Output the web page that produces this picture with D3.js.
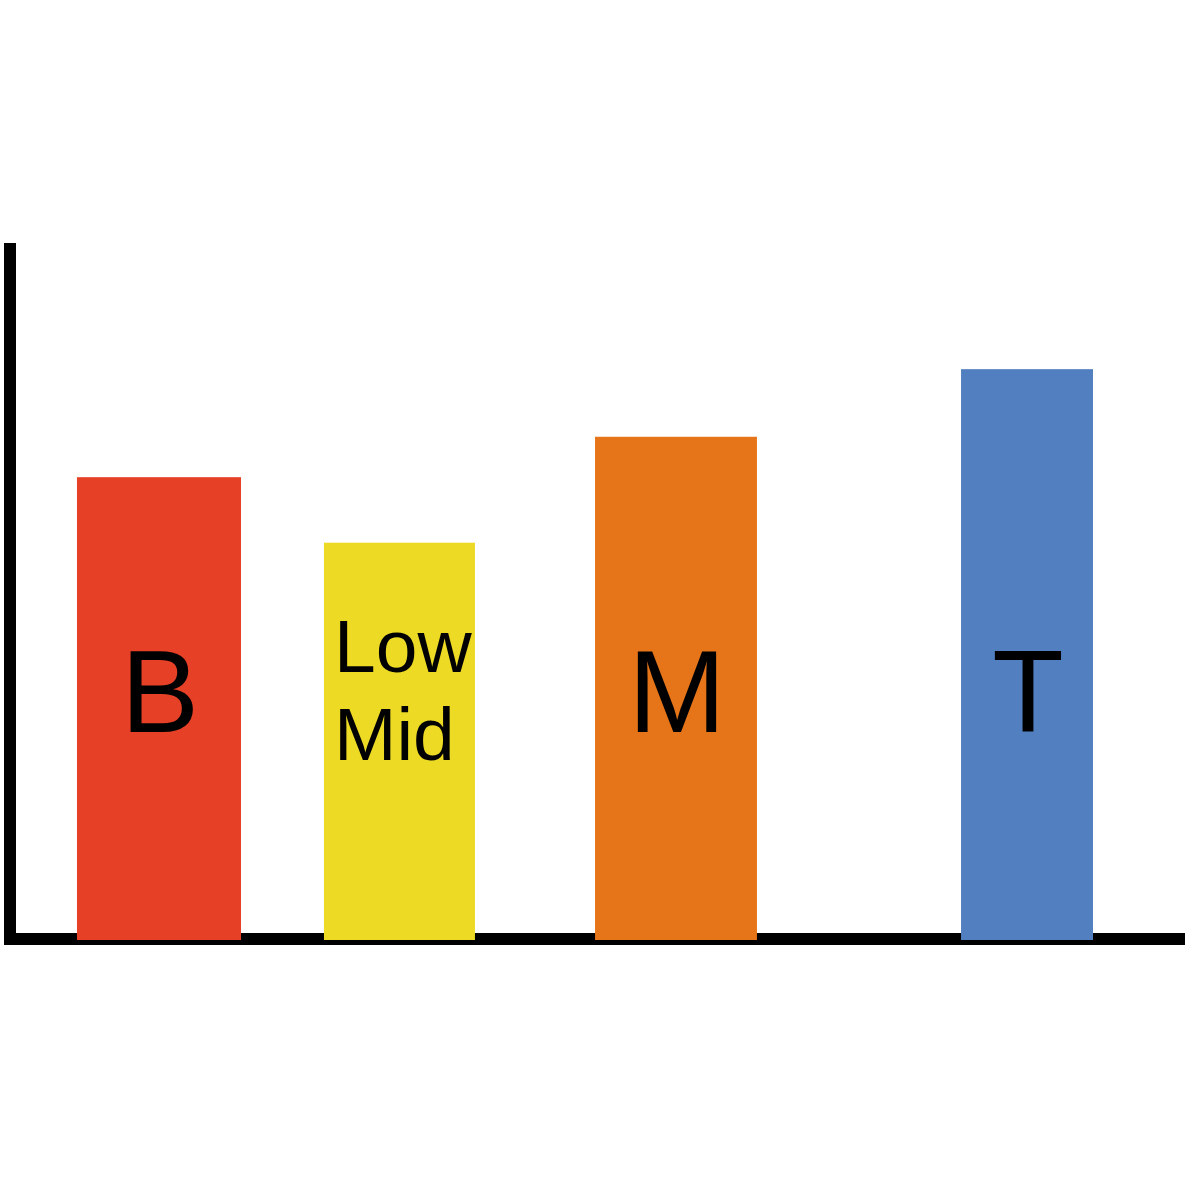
<!DOCTYPE html>
<html>
<head>
<meta charset="utf-8">
<script src="https://cdn.jsdelivr.net/npm/d3@7"></script>
<style>
html,body{margin:0;padding:0;background:#fff;}
svg{display:block;}
svg text{font-family: Arial, "Liberation Sans", Helvetica, sans-serif;}
</style>
</head>
<body>
<script>
// ---- data ----
const categories = ["B", "Low Mid", "M", "T"];
const values = [66.4, 57.0, 72.2, 81.9];
const barStart = [5.70, 26.72, 49.79, 80.94];
const barEnd = [19.66, 39.57, 63.57, 92.17];
const colors = ["#E64027", "#EDDA25", "#E67519", "#527FC0"];

const W = 1189, H = 1189;
const svg = d3.select("body").append("svg").attr("width", W).attr("height", H);

const x = d3.scaleLinear().domain([0, 100]).range([10, 1185]);
const y = d3.scaleLinear().domain([0, 100]).range([940, 243]);

// axes
svg.append("line").attr("x1", x(0)).attr("x2", x(0)).attr("y1", y(100)).attr("y2", 945)
  .attr("stroke", "#000").attr("stroke-width", 12);
svg.append("line").attr("x1", 4).attr("x2", x(100)).attr("y1", 939).attr("y2", 939)
  .attr("stroke", "#000").attr("stroke-width", 12);

const data = categories.map((c, i) => ({c, v: values[i], s: barStart[i], e: barEnd[i], col: colors[i]}));

svg.selectAll("rect.bar").data(data).enter().append("rect")
  .attr("class", "bar")
  .attr("x", d => x(d.s))
  .attr("width", d => x(d.e) - x(d.s))
  .attr("y", d => y(d.v))
  .attr("height", d => y(0) - y(d.v))
  .attr("fill", d => d.col);

data.forEach(d => {
  const cx = (x(d.s) + x(d.e)) / 2;
  const words = d.c.split(" ");
  if (words.length === 1) {
    svg.append("text").attr("x", cx + 1).attr("y", 732)
      .attr("text-anchor", "middle")
      .attr("font-size", 117).attr("fill", "#000").text(d.c);
  } else {
    const t = svg.append("text").attr("font-size", 75).attr("fill", "#000");
    words.forEach((w, k) => t.append("tspan").attr("x", x(d.s) + 10).attr("y", 672 + k * 88).text(w));
  }
});
</script>
</body>
</html>
